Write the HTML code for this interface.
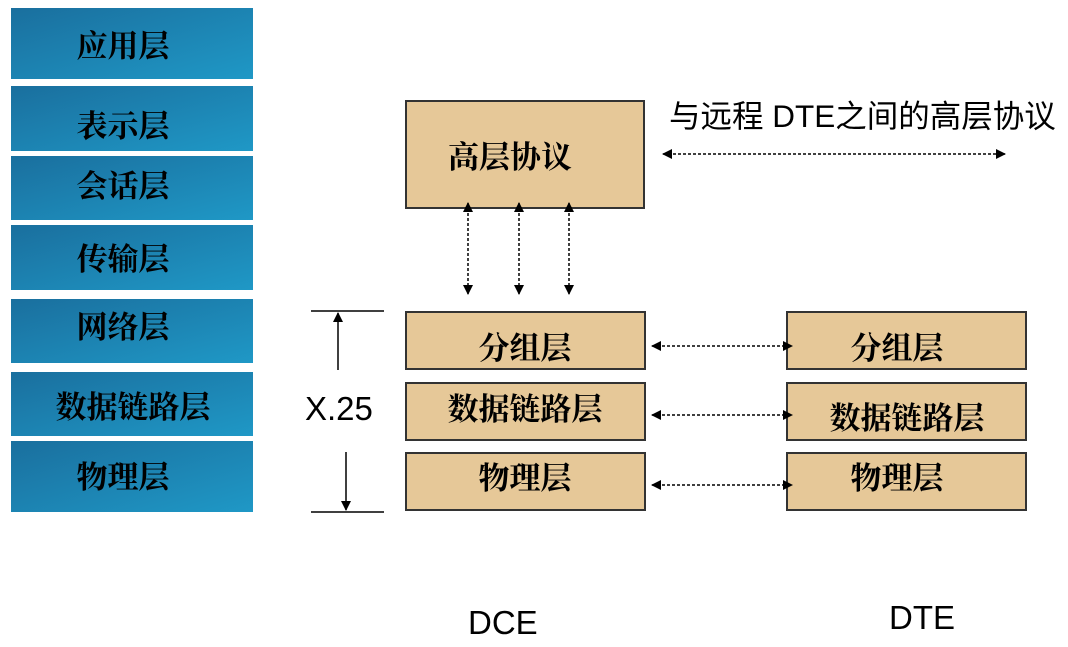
<!DOCTYPE html>
<html><head><meta charset="utf-8"><style>
body{margin:0;background:#fff;width:1068px;height:642px;overflow:hidden}
svg text{font-family:"Liberation Serif","Noto Serif CJK SC",serif;font-weight:bold;fill:#000}
.s{font-family:"Liberation Sans","Noto Sans CJK SC",sans-serif!important;font-weight:normal!important}
</style></head><body>
<svg width="1068" height="642" xmlns="http://www.w3.org/2000/svg">
<defs>
<linearGradient id="g" x1="0" y1="0" x2="1" y2="1"><stop offset="0" stop-color="#1a6f9e"/><stop offset="1" stop-color="#1f98c6"/></linearGradient>
<marker id="a" markerWidth="10" markerHeight="10" refX="9" refY="5" orient="auto-start-reverse" markerUnits="userSpaceOnUse"><path d="M0,0 L10,5 L0,10z" fill="#000"/></marker>
</defs>
<g fill="url(#g)">
<rect x="11" y="8" width="242" height="71"/>
<rect x="11" y="86" width="242" height="65"/>
<rect x="11" y="156" width="242" height="64"/>
<rect x="11" y="225" width="242" height="65"/>
<rect x="11" y="299" width="242" height="64"/>
<rect x="11" y="372" width="242" height="64"/>
<rect x="11" y="441" width="242" height="71"/>
</g>
<g font-size="31" text-anchor="middle">
<text x="123" y="57">应用层</text>
<text x="123" y="137">表示层</text>
<text x="123" y="197">会话层</text>
<text x="123" y="270">传输层</text>
<text x="123" y="338">网络层</text>
<text x="133" y="418">数据链路层</text>
<text x="123" y="488">物理层</text>
</g>
<g fill="#e6c898" stroke="#333" stroke-width="2">
<rect x="406" y="101" width="238" height="107"/>
<rect x="406" y="312" width="239" height="57"/>
<rect x="406" y="383" width="239" height="57"/>
<rect x="406" y="453" width="239" height="57"/>
<rect x="787" y="312" width="239" height="57"/>
<rect x="787" y="383" width="239" height="57"/>
<rect x="787" y="453" width="239" height="57"/>
</g>
<g font-size="31" text-anchor="middle">
<text x="510" y="168">高层协议</text>
<text x="525" y="359">分组层</text>
<text x="525" y="420">数据链路层</text>
<text x="525" y="489">物理层</text>
<text x="897" y="359">分组层</text>
<text x="907" y="429">数据链路层</text>
<text x="897" y="489">物理层</text>
</g>
<text class="s" x="669" y="127" font-size="31.5">与远程 DTE之间的高层协议</text>
<text class="s" x="305" y="420" font-size="33">X.25</text>
<text class="s" x="468" y="634" font-size="33">DCE</text>
<text class="s" x="889" y="629" font-size="33">DTE</text>
<g stroke="#000" stroke-width="1.5" stroke-dasharray="3,2" fill="none" marker-start="url(#a)" marker-end="url(#a)">
<line x1="663" y1="154" x2="1005" y2="154"/>
<line x1="468" y1="203" x2="468" y2="294"/>
<line x1="519" y1="203" x2="519" y2="294"/>
<line x1="569" y1="203" x2="569" y2="294"/>
<line x1="652" y1="346" x2="792" y2="346"/>
<line x1="652" y1="415" x2="792" y2="415"/>
<line x1="652" y1="485" x2="792" y2="485"/>
</g>
<g stroke="#000" stroke-width="1.5">
<line x1="311" y1="311" x2="384" y2="311"/>
<line x1="311" y1="512" x2="384" y2="512"/>
<line x1="338" y1="370" x2="338" y2="313" marker-end="url(#a)"/>
<line x1="346" y1="452" x2="346" y2="510" marker-end="url(#a)"/>
</g>
</svg>
</body></html>
